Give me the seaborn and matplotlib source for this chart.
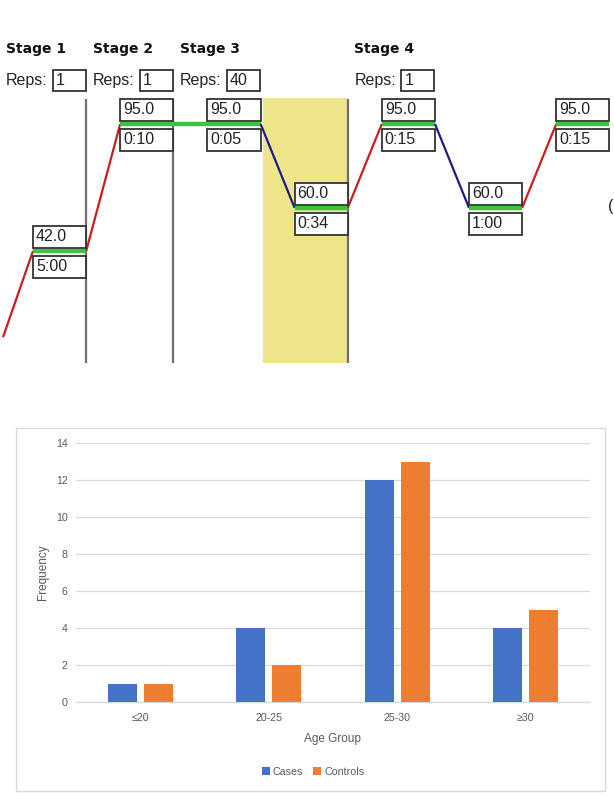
import matplotlib
matplotlib.use("Agg")
import matplotlib.pyplot as plt
from matplotlib.patches import Rectangle, Patch
import seaborn as sns
import pandas as pd

# ---------------- data ----------------
stage_names = ["Stage 1", "Stage 2", "Stage 3", "Stage 4"]
stage_reps = ["1", "1", "40", "1"]
step_stage = [0, 1, 2, 2, 3, 3, 3]
step_temps = [42.0, 95.0, 95.0, 60.0, 95.0, 60.0, 95.0]
step_times = ["5:00", "0:10", "0:05", "0:34", "0:15", "1:00", "0:15"]
start_temp = 6.0
highlight_step = 3

age_groups = ["≤20", "20-25", "25-30", "≥30"]
cases = [1, 4, 12, 4]
controls = [1, 2, 13, 5]
series_names = ["Cases", "Controls"]

# ---------------- figure ----------------
sns.set_theme(style="white")
plt.rcParams["font.family"] = ["Liberation Sans", "DejaVu Sans"]

W, H = 614, 796
fig = plt.figure(figsize=(W / 100, H / 100), dpi=100)

# ---------- top: thermal profile ----------
TOP_H = 380
px_per_deg = 2.396
zero_px = 351.6
def T_of(p):
    return (zero_px - p) / px_per_deg

axt = fig.add_axes([0, 1 - TOP_H / H, 1, TOP_H / H])
axt.set_xlim(0, W)
axt.set_ylim(T_of(TOP_H), T_of(0))
axt.axis("off")

hold_w, ramp_w = 53.2, 34.0
pitch = hold_w + ramp_w
x0s = [33 + pitch * i for i in range(len(step_temps))]

RED, BLUE, GREEN = "#c81e1e", "#1c1c8a", "#3cc43c"
box_font = dict(fontsize=11.5, color="#222222", family=["Liberation Sans", "DejaVu Sans"])

# highlight
hx = x0s[highlight_step] - ramp_w + 2
axt.add_patch(Rectangle((hx, T_of(363)), x0s[highlight_step] + hold_w - hx,
                        T_of(98) - T_of(363), facecolor="#eee58b", edgecolor="none", zorder=0))

# stage dividers and headers
for s, (name, reps) in enumerate(zip(stage_names, stage_reps)):
    steps = [i for i, st in enumerate(step_stage) if st == s]
    first, last = steps[0], steps[-1]
    if s < len(stage_names) - 1:
        xd = x0s[last] + hold_w
        axt.plot([xd, xd], [T_of(363), T_of(99)], color="#6e6e6e", lw=1.6, zorder=1,
                 solid_capstyle="butt")
    hxs = x0s[first] - ramp_w + 6.5
    axt.text(hxs, T_of(49), name, fontsize=10, fontweight="bold", family="DejaVu Sans",
             ha="left", va="center", color="#111111")
    axt.text(hxs, T_of(80.5), "Reps:", ha="left", va="center", **box_font)
    axt.add_patch(Rectangle((hxs + 47, T_of(91)), 33, T_of(70) - T_of(91),
                            facecolor="white", edgecolor="#333333", lw=1.3, zorder=3))
    axt.text(hxs + 50, T_of(80.5), reps, ha="left", va="center", zorder=4, **box_font)

# profile lines
prev_x, prev_T = 3, start_temp
for i, T in enumerate(step_temps):
    x0 = x0s[i]
    col = RED if T > prev_T else (BLUE if T < prev_T else GREEN)
    lw = 1.6 if col != GREEN else 3.2
    axt.plot([prev_x, x0], [prev_T, T], color=col, lw=lw, zorder=2, solid_capstyle="butt")
    axt.plot([x0, x0 + hold_w], [T, T], color=GREEN, lw=3.2, zorder=2, solid_capstyle="butt")
    d = 1 / px_per_deg
    axt.add_patch(Rectangle((x0, T + 3 * d), hold_w, 22 * d, facecolor="white",
                            edgecolor="#333333", lw=1.3, zorder=3))
    axt.add_patch(Rectangle((x0, T - 27 * d), hold_w, 22 * d, facecolor="white",
                            edgecolor="#333333", lw=1.3, zorder=3))
    axt.text(x0 + 3, T + 14 * d, f"{T:.1f}", ha="left", va="center", zorder=4, **box_font)
    axt.text(x0 + 3, T - 16 * d, step_times[i], ha="left", va="center", zorder=4, **box_font)
    prev_x, prev_T = x0 + hold_w, T

axt.text(608, T_of(206), "(", ha="left", va="center", clip_on=True, **box_font)

# ---------- bottom: bar chart ----------
fig.patches.append(Rectangle((16 / W, 1 - 791 / H), (605 - 16) / W, (791 - 428) / H,
                             transform=fig.transFigure, facecolor="none",
                             edgecolor="#d9d9d9", lw=1.0))

L, R, B, T_ = 76, 590, 702, 443
axb = fig.add_axes([L / W, 1 - B / H, (R - L) / W, (B - T_) / H])

df = pd.DataFrame({
    "Age Group": age_groups * 2,
    "Frequency": cases + controls,
    "Group": [series_names[0]] * len(age_groups) + [series_names[1]] * len(age_groups),
})
colors = ["#4472c4", "#ed7d31"]
sns.barplot(data=df, x="Age Group", y="Frequency", hue="Group", palette=colors,
            width=0.56, gap=0.195, saturation=1, linewidth=0, ax=axb, legend=False, zorder=3)

axb.set_ylim(0, 14)
axb.set_xlim(-0.5, len(age_groups) - 0.5)
axb.set_yticks(range(0, 15, 2))
axb.yaxis.grid(True, color="#d9d9d9", lw=0.9, zorder=0)
axb.set_axisbelow(True)
for sp in ["top", "right", "left"]:
    axb.spines[sp].set_visible(False)
axb.spines["bottom"].set_color("#d9d9d9")
axb.spines["bottom"].set_linewidth(0.9)
axb.tick_params(axis="both", length=0, labelsize=7.7, labelcolor="#595959")
axb.tick_params(axis="y", pad=6)
axb.tick_params(axis="x", pad=8)
axb.set_xlabel("Age Group", fontsize=8.5, color="#595959", labelpad=7)
axb.set_ylabel("Frequency", fontsize=8.5, color="#595959", labelpad=5)

handles = [Patch(facecolor=c, edgecolor="none") for c in colors]
axb.legend(handles, series_names, loc="center", bbox_to_anchor=(313 / W, 1 - 772 / H),
           bbox_transform=fig.transFigure, ncol=2, frameon=False, fontsize=7.7,
           labelcolor="#595959", handlelength=0.75, handleheight=0.75,
           handletextpad=0.3, columnspacing=0.9)

fig.savefig("out.png", dpi=100)
